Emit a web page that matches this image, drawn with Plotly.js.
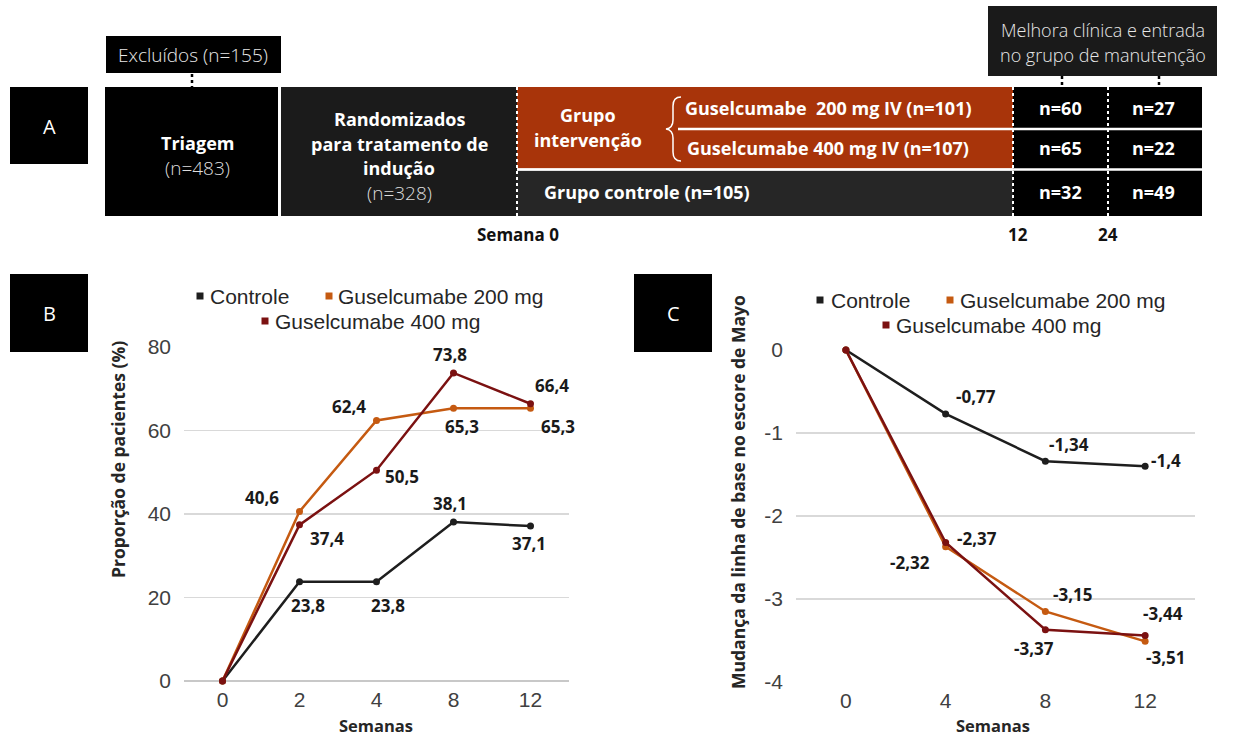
<!DOCTYPE html>
<html><head><meta charset="utf-8">
<script src="https://cdn.plot.ly/plotly-3.0.1.min.js"></script>
<style>body{margin:0;background:#fff}#chart{width:1234px;height:738px}</style>
</head><body><div id="chart"></div>
<script>
// ---------- data ----------
const weeksB = ['0','2','4','8','12'];
const controleB = [0, 23.8, 23.8, 38.1, 37.1];
const g200B = [0, 40.6, 62.4, 65.3, 65.3];
const g400B = [0, 37.4, 50.5, 73.8, 66.4];
const weeksC = [0, 4, 8, 12];
const controleC = [0, -0.77, -1.34, -1.4];
const g200C = [0, -2.37, -3.15, -3.51];
const g400C = [0, -2.32, -3.37, -3.44];
const seriesNames = ['Controle', 'Guselcumabe 200 mg', 'Guselcumabe 400 mg'];
const yTicksB = [0, 20, 40, 60, 80];
const yTicksC = [0, -1, -2, -3, -4];
const xTitle = 'Semanas';
const yTitleB = 'Proporção de pacientes (%)';
const yTitleC = 'Mudança da linha de base no escore de Mayo';
// panel A (flow diagram)
const nTriagem = 483, nExcluidos = 155, nRandom = 328;
const nG200 = 101, nG400 = 107, nControle = 105;
const nSemana12 = [60, 65, 32];
const nSemana24 = [27, 22, 49];
const timeLabels = ['Semana 0', '12', '24'];
const panelLetters = ['A', 'B', 'C'];

// ---------- styles ----------
const W = 1234, H = 738;
const FA = 'Open Sans';
const colors = ['#1e1e1e', '#c55a11', '#7b1111'];
const offB = [
  [null, [8, -24], [11, -24], [-4, 18], [-2, -17]],
  [null, [-38, 14], [-28, 14], [8, -18], [27, -18]],
  [null, [27, -14], [25, -6], [-4, 18], [21, 18]]
];
const offC = [
  [null, [30, 17], [24, 17], [21, 6]],
  [null, [31, 8], [27, 17], [20, -16]],
  [null, [-36, -20], [-11, -19], [18, 22]]
];
const fmt = v => String(v).replace('.', ',');

const shapes = [], ann = [];
function rect(x0, y0, x1, y1, fill, layer) {
  shapes.push({type:'rect', xref:'paper', yref:'paper', x0:x0/W, x1:x1/W, y0:1-y1/H, y1:1-y0/H,
    fillcolor:fill, line:{width:0}, layer:layer||'below'});
}
function seg(x0, y0, x1, y1, color, width, dash) {
  shapes.push({type:'line', xref:'paper', yref:'paper', x0:x0/W, x1:x1/W, y0:1-y0/H, y1:1-y1/H,
    line:{color:color, width:width, dash:dash||'solid'}, layer:'above'});
}
function P(x, y) { return (x/W) + ',' + (1-y/H); }
function txt(x, y, text, o) {
  o = o || {};
  ann.push({xref:'paper', yref:'paper', x:x/W, y:1-y/H, text:text, showarrow:false,
    xanchor:o.anchor||'center', yanchor:'middle', textangle:o.angle||0,
    font:{family:o.family||FA, size:o.size||18, color:o.color||'#ffffff', weight:o.weight||400}});
}

// ---------- panel A ----------
rect(10, 87, 88, 164, '#000'); txt(49, 126, panelLetters[0], {size:20});
rect(106, 36, 281, 73, '#000');
txt(193, 55, 'Excluídos (n=' + nExcluidos + ')', {weight:300, color:'#e8e8e8', size:19});
seg(192, 74, 192, 87, '#000', 2.5, 'dot');
rect(105, 87, 278, 216, '#000');
txt(197, 143, 'Triagem', {weight:700});
txt(197, 168, '(n=' + nTriagem + ')', {weight:300, color:'#dddddd', size:19});
rect(281, 87, 517, 216, '#1b1b1b');
txt(399, 119, 'Randomizados', {weight:700});
txt(399, 144, 'para tratamento de', {weight:700});
txt(399, 168, 'indução', {weight:700});
txt(399, 193, '(n=' + nRandom + ')', {weight:300, color:'#dddddd', size:19});
rect(517, 87, 1013, 168.5, '#a8340a');
rect(517, 170.5, 1013, 216, '#262626');
rect(1013, 87, 1202, 216, '#000');
seg(678, 129, 1202, 129, '#fff', 2.5);
seg(517, 169.5, 1202, 169.5, '#fff', 2.5);
seg(517, 87, 517, 216, '#fff', 2, 'dot');
seg(1013, 87, 1013, 216, '#fff', 2, 'dot');
seg(1108, 87, 1108, 216, '#fff', 2, 'dot');
rect(988, 6, 1217, 76, '#1a1a1a');
txt(1103, 30, 'Melhora clínica e entrada', {weight:300, color:'#e8e8e8'});
txt(1103, 55, 'no grupo de manutenção', {weight:300, color:'#e8e8e8'});
seg(1062, 76, 1062, 87, '#000', 2.5, 'dot');
seg(1159, 76, 1159, 87, '#000', 2.5, 'dot');
txt(588, 115, 'Grupo', {weight:700});
txt(588, 140, 'intervenção', {weight:700});
shapes.push({type:'path', xref:'paper', yref:'paper', layer:'above', line:{color:'#fff', width:1.5},
  path:'M ' + P(681,97) + ' Q ' + P(673,97) + ' ' + P(673,106) + ' L ' + P(673,120) +
       ' Q ' + P(673,128) + ' ' + P(666,129) + ' Q ' + P(673,130) + ' ' + P(673,138) +
       ' L ' + P(673,152) + ' Q ' + P(673,161) + ' ' + P(681,161)});
txt(683, 108, 'Guselcumabe  200 mg IV (n=' + nG200 + ')', {anchor:'left', weight:700});
txt(685, 148, 'Guselcumabe 400 mg IV (n=' + nG400 + ')', {anchor:'left', weight:700});
txt(542, 192, 'Grupo controle (n=' + nControle + ')', {anchor:'left', weight:700});
const rowsY = [108, 148, 192];
rowsY.forEach((y, i) => {
  txt(1060, y, 'n=' + nSemana12[i], {weight:700});
  txt(1153, y, 'n=' + nSemana24[i], {weight:700});
});
txt(518, 234, timeLabels[0], {color:'#111', weight:700, size:17});
txt(1018, 234, timeLabels[1], {color:'#111', weight:700, size:17});
txt(1108, 234, timeLabels[2], {color:'#111', weight:700, size:17});

// ---------- panel letters B, C ----------
rect(10, 274, 88, 352, '#000'); txt(49, 313, panelLetters[1], {size:20});
rect(634, 274, 712, 352, '#000'); txt(673, 313, panelLetters[2], {size:20});

// ---------- legends ----------
function legendItem(cx, cy, tx, i) {
  rect(cx-3.5, cy-3.5, cx+3.5, cy+3.5, colors[i], 'above');
  txt(tx, cy, seriesNames[i], {anchor:'left', family:'Liberation Sans', size:21, color:'#262626'});
}
legendItem(200, 296, 208, 0); legendItem(329, 296, 336, 1); legendItem(265, 321, 273, 2);
legendItem(820, 300, 829, 0); legendItem(950, 300, 958, 1); legendItem(886, 325, 894, 2);

// ---------- axis titles ----------
txt(376, 725, xTitle, {color:'#262626', weight:700, size:16.5});
txt(993, 725, xTitle, {color:'#262626', weight:700, size:16.5});
txt(118, 460, yTitleB, {color:'#262626', weight:700, size:17.5, angle:-90});
txt(738, 492, yTitleC, {color:'#262626', weight:700, size:17.5, angle:-90});

// ---------- traces ----------
const labelFont = {family:FA, size:17, weight:700, color:'#1a1a1a'};
const seriesB = [controleB, g200B, g400B];
const seriesC = [controleC, g200C, g400C];
const traces = [];
seriesB.forEach((ys, i) => {
  traces.push({type:'scatter', mode:'lines+markers', x:weeksB, y:ys, xaxis:'x', yaxis:'y',
    name:seriesNames[i], line:{color:colors[i], width:2.5}, marker:{color:colors[i], size:7},
    cliponaxis:false, hoverinfo:'skip'});
  ys.forEach((v, j) => {
    const o = offB[i][j]; if (!o) return;
    // x given as category index on the category axis
    ann.push({xref:'x', yref:'y', x:j, y:v, text:fmt(v), showarrow:false,
      xshift:o[0], yshift:o[1], font:labelFont});
  });
});
seriesC.forEach((ys, i) => {
  traces.push({type:'scatter', mode:'lines+markers', x:weeksC, y:ys, xaxis:'x2', yaxis:'y2',
    name:seriesNames[i], line:{color:colors[i], width:2.5}, marker:{color:colors[i], size:7},
    cliponaxis:false, hoverinfo:'skip'});
  ys.forEach((v, j) => {
    const o = offC[i][j]; if (!o) return;
    ann.push({xref:'x2', yref:'y2', x:weeksC[j], y:v, text:fmt(v), showarrow:false,
      xshift:o[0], yshift:o[1], font:labelFont});
  });
});

const tickFont = {family:'Liberation Sans', size:21, color:'#404040'};
const layout = {
  width:W, height:H, margin:{l:0, r:0, t:0, b:0},
  paper_bgcolor:'#fff', plot_bgcolor:'rgba(0,0,0,0)', showlegend:false,
  xaxis:{domain:[184/W, 569/W], anchor:'y', type:'category', categoryorder:'array', categoryarray:weeksB,
    range:[-0.5, 4.5], showgrid:false, zeroline:false, showline:false, ticks:'',
    tickfont:tickFont, ticklabelstandoff:4, fixedrange:true},
  yaxis:{domain:[1-681/H, 1-347/H], anchor:'x', range:[0, 80], tickvals:yTicksB, ticktext:yTicksB.map(String),
    showgrid:true, gridcolor:'#d9d9d9', gridwidth:1.3, zeroline:true, zerolinecolor:'#c8c8c8', zerolinewidth:1.5,
    showline:false, ticks:'', tickfont:tickFont, ticklabelstandoff:12, fixedrange:true},
  xaxis2:{domain:[796/W, 1195/W], anchor:'y2', range:[-2, 14], tickvals:weeksC, ticktext:weeksC.map(String),
    showgrid:false, zeroline:false, showline:false, ticks:'', tickfont:tickFont, ticklabelstandoff:4, fixedrange:true},
  yaxis2:{domain:[1-682/H, 1-350/H], anchor:'x2', range:[-4, 0], tickvals:yTicksC, ticktext:yTicksC.map(String),
    showgrid:true, gridcolor:'#d9d9d9', gridwidth:1.3, zeroline:false,
    showline:false, ticks:'', tickfont:tickFont, ticklabelstandoff:12, fixedrange:true},
  shapes:shapes, annotations:ann
};
Plotly.newPlot('chart', traces, layout, {staticPlot:true, displayModeBar:false});
</script>
</body></html>
